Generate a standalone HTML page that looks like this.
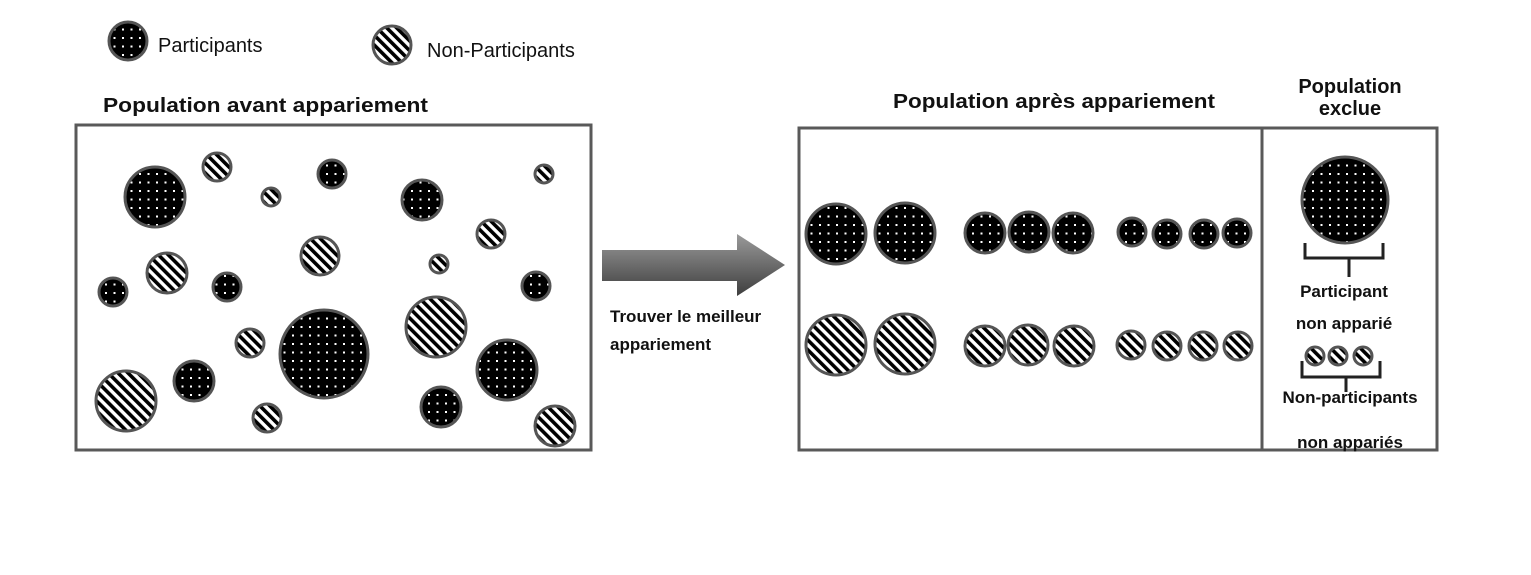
<!DOCTYPE html>
<html><head><meta charset="utf-8"><style>
html,body{margin:0;padding:0;background:#fff;width:1531px;height:575px;overflow:hidden}
svg text{font-family:"Liberation Sans",sans-serif;fill:#111}
.b{font-weight:bold}
</style></head><body>
<svg width="1531" height="575" viewBox="0 0 1531 575" xmlns="http://www.w3.org/2000/svg">
<defs>
<pattern id="dot" width="8.5" height="8.5" patternUnits="userSpaceOnUse">
<rect width="8.5" height="8.5" fill="#000"/><rect x="3" y="3" width="2" height="2" fill="#fff"/>
</pattern>
<pattern id="str" width="7" height="7" patternUnits="userSpaceOnUse" patternTransform="rotate(-45)">
<rect width="7" height="7" fill="#fff"/><rect width="3.6" height="7" fill="#000"/>
</pattern>
<linearGradient id="ag" x1="0" y1="0" x2="0" y2="1">
<stop offset="0" stop-color="#9a9a9a"/><stop offset="1" stop-color="#3e3e3e"/>
</linearGradient>
</defs>
<g stroke="#555" stroke-width="3">
<circle cx="128" cy="41" r="19" fill="url(#dot)"/>
<circle cx="392" cy="45" r="19" fill="url(#str)"/>
</g>
<text x="158" y="52" font-size="20">Participants</text>
<text x="427" y="57" font-size="20">Non-Participants</text>
<text x="103" y="112" font-size="20" class="b" textLength="325" lengthAdjust="spacingAndGlyphs">Population avant appariement</text>
<text x="893" y="108" font-size="20" class="b" textLength="322" lengthAdjust="spacingAndGlyphs">Population après appariement</text>
<text x="1350" y="93" font-size="20" class="b" text-anchor="middle">Population</text>
<text x="1350" y="115" font-size="20" class="b" text-anchor="middle">exclue</text>
<rect x="76" y="125" width="515" height="325" fill="none" stroke="#595959" stroke-width="3"/>
<rect x="799" y="128" width="638" height="322" fill="none" stroke="#595959" stroke-width="3"/>
<line x1="1262" y1="128" x2="1262" y2="450" stroke="#595959" stroke-width="3"/>
<g stroke="#555" stroke-width="3">
<circle cx="155" cy="197" r="30" fill="url(#dot)"/>
<circle cx="217" cy="167" r="14" fill="url(#str)"/>
<circle cx="271" cy="197" r="9" fill="url(#str)"/>
<circle cx="332" cy="174" r="14" fill="url(#dot)"/>
<circle cx="422" cy="200" r="20" fill="url(#dot)"/>
<circle cx="544" cy="174" r="9" fill="url(#str)"/>
<circle cx="491" cy="234" r="14" fill="url(#str)"/>
<circle cx="167" cy="273" r="20" fill="url(#str)"/>
<circle cx="320" cy="256" r="19" fill="url(#str)"/>
<circle cx="227" cy="287" r="14" fill="url(#dot)"/>
<circle cx="439" cy="264" r="9" fill="url(#str)"/>
<circle cx="113" cy="292" r="14" fill="url(#dot)"/>
<circle cx="536" cy="286" r="14" fill="url(#dot)"/>
<circle cx="436" cy="327" r="30" fill="url(#str)"/>
<circle cx="324" cy="354" r="44" fill="url(#dot)"/>
<circle cx="250" cy="343" r="14" fill="url(#str)"/>
<circle cx="507" cy="370" r="30" fill="url(#dot)"/>
<circle cx="194" cy="381" r="20" fill="url(#dot)"/>
<circle cx="126" cy="401" r="30" fill="url(#str)"/>
<circle cx="441" cy="407" r="20" fill="url(#dot)"/>
<circle cx="267" cy="418" r="14" fill="url(#str)"/>
<circle cx="555" cy="426" r="20" fill="url(#str)"/>

<circle cx="836" cy="234" r="30" fill="url(#dot)"/>
<circle cx="905" cy="233" r="30" fill="url(#dot)"/>
<circle cx="985" cy="233" r="20" fill="url(#dot)"/>
<circle cx="1029" cy="232" r="20" fill="url(#dot)"/>
<circle cx="1073" cy="233" r="20" fill="url(#dot)"/>
<circle cx="1132" cy="232" r="14" fill="url(#dot)"/>
<circle cx="1167" cy="234" r="14" fill="url(#dot)"/>
<circle cx="1204" cy="234" r="14" fill="url(#dot)"/>
<circle cx="1237" cy="233" r="14" fill="url(#dot)"/>

<circle cx="836" cy="345" r="30" fill="url(#str)"/>
<circle cx="905" cy="344" r="30" fill="url(#str)"/>
<circle cx="985" cy="346" r="20" fill="url(#str)"/>
<circle cx="1028" cy="345" r="20" fill="url(#str)"/>
<circle cx="1074" cy="346" r="20" fill="url(#str)"/>
<circle cx="1131" cy="345" r="14" fill="url(#str)"/>
<circle cx="1167" cy="346" r="14" fill="url(#str)"/>
<circle cx="1203" cy="346" r="14" fill="url(#str)"/>
<circle cx="1238" cy="346" r="14" fill="url(#str)"/>

<circle cx="1345" cy="200" r="43" fill="url(#dot)"/>
<circle cx="1315" cy="356" r="9" fill="url(#str)"/>
<circle cx="1338" cy="356" r="9" fill="url(#str)"/>
<circle cx="1363" cy="356" r="9" fill="url(#str)"/>
</g>
<g stroke="#222" stroke-width="3" fill="none">
<polyline points="1305,243 1305,258 1383,258 1383,243"/>
<line x1="1349" y1="258" x2="1349" y2="277"/>
<polyline points="1302,361 1302,377 1380,377 1380,361"/>
<line x1="1346" y1="377" x2="1346" y2="392"/>
</g>
<text x="1344" y="297" font-size="17" class="b" text-anchor="middle">Participant</text>
<text x="1344" y="329" font-size="17" class="b" text-anchor="middle">non apparié</text>
<text x="1350" y="403" font-size="17" class="b" text-anchor="middle">Non-participants</text>
<text x="1350" y="448" font-size="17" class="b" text-anchor="middle">non appariés</text>
<polygon points="602,250 737,250 737,234 785,265 737,296 737,281 602,281" fill="url(#ag)"/>
<text x="610" y="322" font-size="17" class="b">Trouver le meilleur</text>
<text x="610" y="350" font-size="17" class="b">appariement</text>
</svg>
</body></html>
